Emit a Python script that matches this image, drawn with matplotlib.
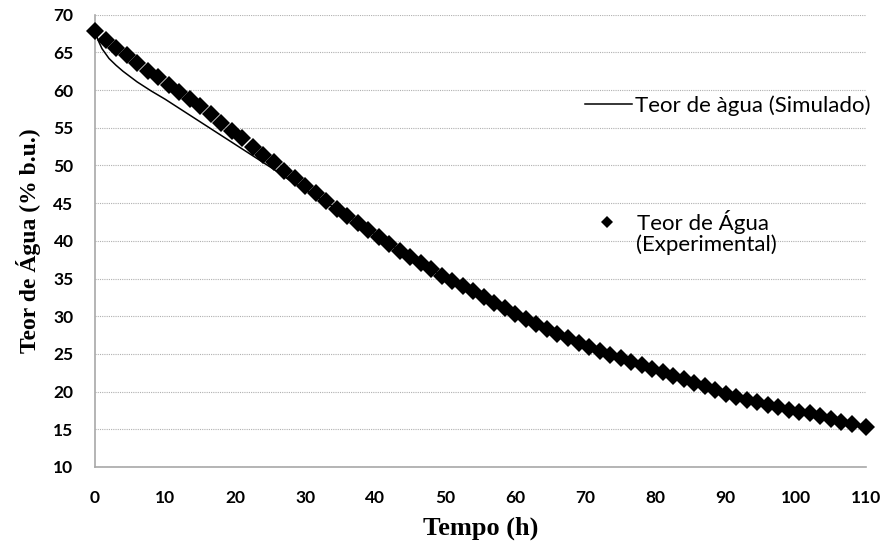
import matplotlib
matplotlib.use("Agg")
import matplotlib.pyplot as plt
from matplotlib.lines import Line2D

# Tempo (h) e teor de agua experimental (% b.u.)
tempo_exp = [0, 1.5, 3, 4.5, 6, 7.5, 9, 10.5, 12, 13.5, 15, 16.5, 18, 19.5,
             21, 22.5, 24, 25.5, 27, 28.5, 30, 31.5, 33, 34.5, 36, 37.5, 39,
             40.5, 42, 43.5, 45, 46.5, 48, 49.5, 51, 52.5, 54, 55.5, 57, 58.5,
             60, 61.5, 63, 64.5, 66, 67.5, 69, 70.5, 72, 73.5, 75, 76.5, 78,
             79.5, 81, 82.5, 84, 85.5, 87, 88.5, 90, 91.5, 93, 94.5, 96, 97.5,
             99, 100.5, 102, 103.5, 105, 106.5, 108, 110]
teor_exp = [67.8, 66.7, 65.6, 64.6, 63.6, 62.6, 61.7, 60.7, 59.8, 58.8, 57.9,
            56.8, 55.7, 54.6, 53.6, 52.5, 51.4, 50.4, 49.3, 48.3, 47.3, 46.3,
            45.3, 44.2, 43.3, 42.4, 41.5, 40.5, 39.6, 38.7, 37.8, 37.0, 36.2,
            35.4, 34.7, 34.0, 33.3, 32.6, 31.8, 31.1, 30.3, 29.6, 29.0, 28.3,
            27.7, 27.1, 26.5, 25.9, 25.4, 24.9, 24.4, 23.9, 23.5, 23.0, 22.6,
            22.1, 21.6, 21.2, 20.7, 20.2, 19.7, 19.3, 18.9, 18.6, 18.2, 17.9,
            17.6, 17.3, 17.1, 16.8, 16.4, 15.9, 15.7, 15.3]

# teor de agua simulado
tempo_sim = [0, 0.5, 1, 2, 3, 4, 6, 8, 10, 12, 14, 16, 18, 20, 22, 24, 26, 28,
             30, 32, 34, 36, 40, 45, 50, 55, 60, 65, 70, 75, 80, 85, 90, 95,
             100, 105, 110]
teor_sim = [67.8, 66.5, 65.5, 64.2, 63.3, 62.5, 61.1, 59.9, 58.8, 57.6, 56.4,
            55.2, 54.0, 52.8, 51.6, 50.4, 49.2, 47.9, 46.8, 45.7, 44.5, 43.4,
            40.9, 37.8, 35.2, 32.8, 30.3, 28.1, 26.1, 24.4, 22.9, 21.3, 19.7,
            18.4, 17.3, 16.3, 15.3]

x_ticks = list(range(0, 111, 10))
y_ticks = list(range(10, 71, 5))

fig = plt.figure(figsize=(8.88, 5.48), dpi=100)
ax = fig.add_axes([0.107, 0.148, 0.868, 0.825])

ax.plot(tempo_sim, teor_sim, color='black', linewidth=1.1, zorder=3)
ax.plot(tempo_exp, teor_exp, linestyle='none', marker='D', markersize=9.5,
        color='black', markeredgewidth=0, zorder=4, clip_on=False)

ax.set_xlim(0, 110)
ax.set_ylim(10, 70)
ax.set_xticks(x_ticks)
ax.set_yticks(y_ticks)
ax.yaxis.grid(True, color='#b0b0b0', linestyle=(0, (1, 1)), linewidth=0.8)
ax.set_axisbelow(True)
for s in ['top', 'right']:
    ax.spines[s].set_visible(False)
for s in ['left', 'bottom']:
    ax.spines[s].set_color('#a8a8a8')
    ax.spines[s].set_linewidth(1.2)
ax.tick_params(axis='both', length=0, labelsize=12.5, colors='black')
ax.tick_params(axis='x', pad=16.5)
ax.tick_params(axis='y', pad=15.5)
for lab in ax.get_xticklabels() + ax.get_yticklabels():
    lab.set_family('Lato')
    lab.set_fontweight('bold')

ax.set_xlabel('Tempo (h)', family='Liberation Serif', fontweight='bold',
              fontsize=19, labelpad=8)
ax.set_ylabel('Teor de Água (% b.u.)', family='Liberation Serif',
              fontweight='bold', fontsize=17, labelpad=9)

# legenda em duas partes
h1 = Line2D([], [], color='black', linewidth=1.1)
leg1 = ax.legend([h1], ['Teor de àgua (Simulado)'], loc='center left',
                 bbox_to_anchor=(0.636, 0.799), frameon=False,
                 prop={'family': 'Lato', 'size': 16},
                 handlelength=2.1, handletextpad=0.15, borderpad=0,
                 borderaxespad=0)
ax.add_artist(leg1)
h2 = Line2D([], [], linestyle='none', marker='D', markersize=6.2,
            color='black', markeredgewidth=0)
ax.legend([h2], ['Teor de Água'], loc='center left',
          bbox_to_anchor=(0.650, 0.542), frameon=False,
          prop={'family': 'Lato', 'size': 16},
          handlelength=1.0, handletextpad=0.86, borderpad=0,
          borderaxespad=0)
ax.text(0.7017, 0.491, '(Experimental)', transform=ax.transAxes,
        family='Lato', fontsize=16, ha='left', va='center')

fig.savefig('out.png', dpi=100)
